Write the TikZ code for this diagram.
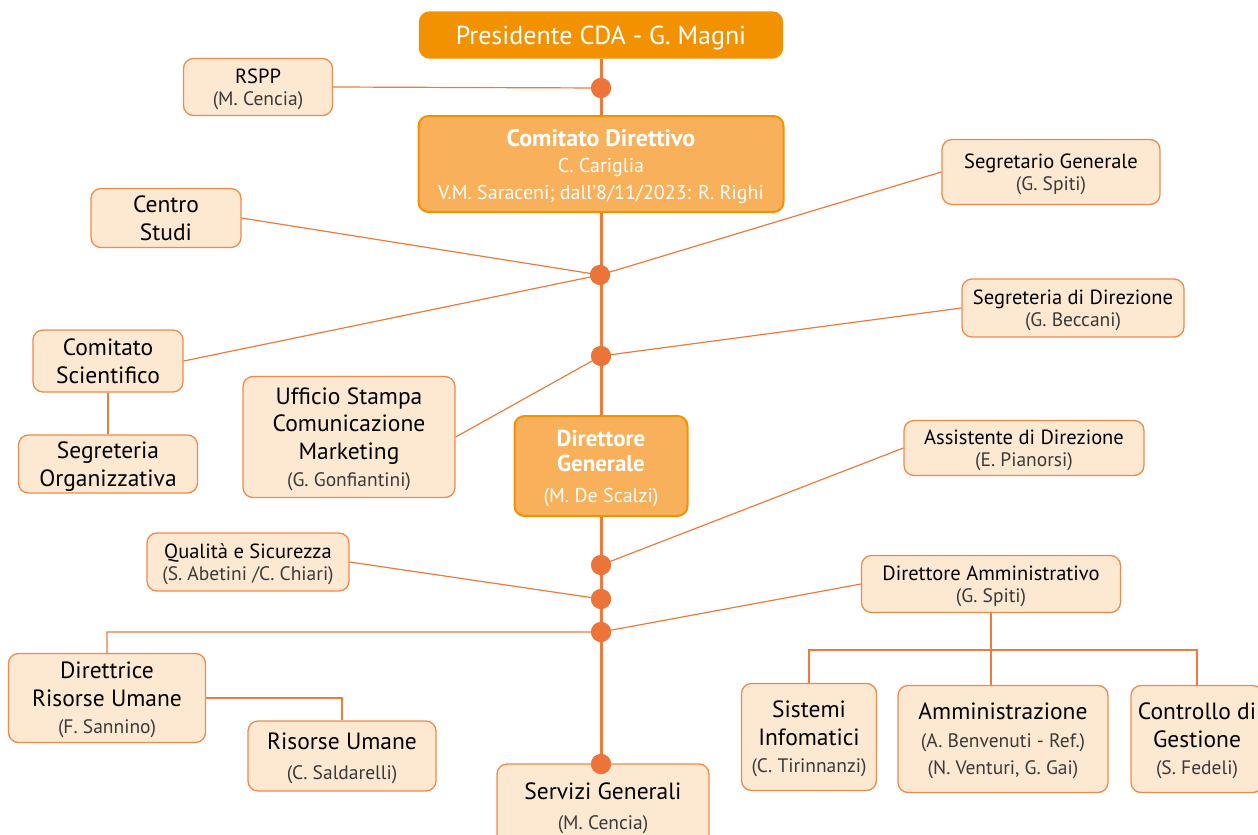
\documentclass[tikz,border=0pt]{standalone}
\usepackage{fontspec}
\setmainfont{PT Sans}
\usepackage{tikz}
\tikzset{% change default arrow tips
    >=latex
}
\definecolor{presorange}{HTML}{F39200}
\definecolor{cdfill}{HTML}{F8B05A}
\definecolor{boxfill}{HTML}{FDE8D2}
\definecolor{boxborder}{HTML}{F08A4B}
\definecolor{linecol}{HTML}{EE7A3C}
\definecolor{dotcol}{HTML}{EC7439}
\definecolor{namegray}{HTML}{3A3A3A}

\begin{document}
\begin{tikzpicture}[x=1pt,y=-1pt]
    		\newcommand{\trunkw}{3pt} % width of the main line
    		\newcommand{\nmfont}{\fontsize{19.5}{22}\selectfont\color{namegray}}
    		\newcommand{\nmwhite}{\fontsize{20}{26}\selectfont}

    		% set the styles of the boxes
    		\tikzset{
    			box/.style={
    				draw=boxborder,
    				fill=boxfill,
    				line width=1.3pt,
    				rounded corners=10pt,
    				align=center,
    				inner sep=1pt,
    				text depth=0pt,
    				font=\fontsize{23.5}{27.5}\selectfont
    				},
    			smallbox/.style={
    				box,
    				font=\fontsize{20.5}{22.5}\selectfont
    				},
    			headbox/.style={
    				box,
    				draw=presorange,
    				fill=cdfill,
    				line width=2pt,
    				text=white,
    				font=\bfseries\fontsize{24}{26.5}\selectfont
    				},
    			dot/.style={
    				circle,
    				fill=dotcol,
    				inner sep=0pt,
    				minimum size=20pt
    				},
    			link/.style={
    				draw=linecol,
    				line width=1.2pt
    				}
    		}

    		\clip (0,0) rectangle (1258,835);

    		% top of the chart
    		\node[box, draw=presorange, fill=presorange, text=white, minimum width=363pt, minimum height=46pt,
    			font=\fontsize{26}{28}\selectfont] (pres) at (601,35) {Presidente CDA - G. Magni};
    		\node[headbox, minimum width=365pt, minimum height=96pt] (cdir) at (601,164)
    			{Comitato Direttivo\\{\mdseries\nmwhite C. Cariglia}\\{\mdseries\nmwhite V.M. Saraceni; dall’8/11/2023: R. Righi}};
    		\node[headbox, minimum width=173pt, minimum height=100pt, font=\bfseries\fontsize{23}{25}\selectfont] (dirgen) at (601,466)
    			{Direttore\\Generale\\[6pt]{\mdseries\nmwhite (M. De Scalzi)}};

    		% boxes on the left
    		\node[smallbox, minimum width=149pt, minimum height=57pt] (rspp) at (258,87) {RSPP\\{\nmfont (M. Cencia)}};
    		\node[box, minimum width=150pt, minimum height=59pt] (cstudi) at (166,218) {Centro\\Studi};
    		\node[box, minimum width=150pt, minimum height=62pt] (cscient) at (108,361) {Comitato\\Scientifico};
    		\node[box, minimum width=179pt, minimum height=58pt] (segorg) at (108,464) {Segreteria\\Organizzativa};
    		\node[box, minimum width=212pt, minimum height=121pt] (uffst) at (349,437)
    			{Ufficio Stampa\\Comunicazione\\Marketing\\{\nmfont (G. Gonfiantini)}};
    		\node[smallbox, minimum width=202pt, minimum height=58pt] (qual) at (248,562)
    			{Qualità e Sicurezza\\{\nmfont (S. Abetini /C. Chiari)}};
    		\node[box, minimum width=197pt, minimum height=89pt] (dirru) at (107,698)
    			{Direttrice\\Risorse Umane\\{\nmfont (F. Sannino)}};
    		\node[box, minimum width=188pt, minimum height=70pt] (ru) at (342,756)
    			{Risorse Umane\\[2pt]{\nmfont (C. Saldarelli)}};
    		\node[box, minimum width=212pt, minimum height=84pt] (servgen) at (603,806)
    			{Servizi Generali\\[2pt]{\nmfont (M. Cencia)}};

    		% boxes on the right
    		\node[smallbox, minimum width=218pt, minimum height=65pt] (seggen) at (1051,172)
    			{Segretario Generale\\{\nmfont (G. Spiti)}};
    		\node[smallbox, minimum width=222pt, minimum height=58pt] (segdir) at (1073,308)
    			{Segreteria di Direzione\\{\nmfont (G. Beccani)}};
    		\node[smallbox, minimum width=240pt, minimum height=55pt] (assdir) at (1024,448)
    			{Assistente di Direzione\\{\nmfont (E. Pianorsi)}};
    		\node[smallbox, minimum width=259pt, minimum height=57pt] (diramm) at (991,584)
    			{Direttore Amministrativo\\{\nmfont (G. Spiti)}};
    		\node[box, minimum width=135pt, minimum height=107pt] (sist) at (809,737)
    			{Sistemi\\Infomatici\\{\nmfont (C. Tirinnanzi)}};
    		\node[box, minimum width=210pt, minimum height=107pt] (amm) at (1003,739)
    			{Amministrazione\\{\nmfont (A. Benvenuti - Ref.)}\\{\nmfont (N. Venturi, G. Gai)}};
    		\node[box, minimum width=132pt, minimum height=107pt] (contr) at (1197,739)
    			{Controllo di\\Gestione\\{\nmfont (S. Fedeli)}};

    		% main line
    		\draw[link, line width=\trunkw] (pres.south) -- (cdir.north);
    		\draw[link, line width=\trunkw] (cdir.south) -- (dirgen.north);
    		\draw[link, line width=\trunkw] (dirgen.south) -- (dirgen.south |- servgen.north);

    		% dots on the main line
    		\node[dot] (d1) at (601,88) {};
    		\node[dot] (d2) at (600,275) {};
    		\node[dot] (d3) at (601,356) {};
    		\node[dot] (d4) at (601,565) {};
    		\node[dot] (d5) at (601,599) {};
    		\node[dot] (d6) at (601,632) {};
    		\node[dot] (d7) at (601,764) {};
    		\coordinate (fork) at (991,650);

    		% connectors
    		\draw[link] (rspp.east) -- (d1.center);
    		\draw[link] (cstudi.east) -- (d2.center);
    		\draw[link] (cscient.east) -- (d2.center) -- (seggen.west);
    		\draw[link] (uffst.east) -- (d3.center) -- (segdir.west);
    		\draw[link] (assdir.west) -- (d4.center);
    		\draw[link] (qual.east) -- (d5.center);
    		\draw[link] (diramm.west) -- (d6.center) -| (dirru.north);
    		\draw[link] (dirru.east) -| (ru.north);
    		\draw[link] (cscient.south) -- (segorg.north);
    		\draw[link] (diramm.south) -- (diramm.south |- amm.north);
    		\draw[link] (sist.north) |- (fork) -| (contr.north);

    		% dots again on top of the connectors
    		\foreach \d in {d1,d2,d3,d4,d5,d6,d7}
    			\fill[dotcol] (\d) circle (10pt);
\end{tikzpicture}
\end{document}
